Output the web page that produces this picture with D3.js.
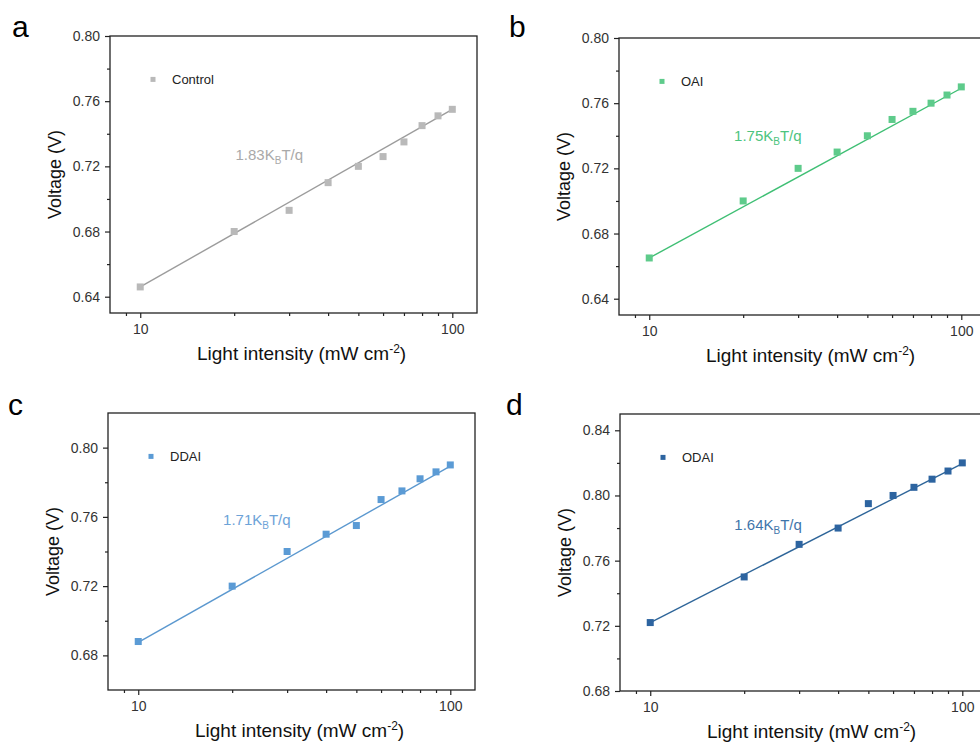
<!DOCTYPE html>
<html>
<head>
<meta charset="utf-8">
<script src="https://d3js.org/d3.v7.min.js"></script>
<style>
  html, body { margin: 0; padding: 0; background: #fff; }
  svg { display: block; font-family: "Liberation Sans", Arial, sans-serif; }
</style>
</head>
<body>
<svg id="chart" width="980" height="743"></svg>
<script>
// Light-intensity dependence of open-circuit voltage for four devices
const intensity = [10, 20, 30, 40, 50, 60, 70, 80, 90, 100];
const vocControl = [0.646, 0.680, 0.693, 0.710, 0.720, 0.726, 0.735, 0.745, 0.751, 0.755];
const vocOAI     = [0.665, 0.700, 0.720, 0.730, 0.740, 0.750, 0.755, 0.760, 0.765, 0.770];
const vocDDAI    = [0.688, 0.720, 0.740, 0.750, 0.755, 0.770, 0.775, 0.782, 0.786, 0.790];
const vocODAI    = [0.722, 0.750, 0.770, 0.780, 0.795, 0.800, 0.805, 0.810, 0.815, 0.820];

const seriesNames = ["Control", "OAI", "DDAI", "ODAI"];
const panelLetters = ["a", "b", "c", "d"];
// ideality factor n (slope = n·kBT/q) and fitted voltage at 10 mW cm-2
const idealityFactors = [1.83, 1.75, 1.71, 1.64];
const fitVoltageAt10 = [0.646, 0.665, 0.6875, 0.722];

const yDomains = [[0.63, 0.80], [0.63, 0.80], [0.66, 0.82], [0.68, 0.85]];
const yTicksA = [0.64, 0.68, 0.72, 0.76, 0.80];
const yTicksB = [0.64, 0.68, 0.72, 0.76, 0.80];
const yTicksC = [0.68, 0.72, 0.76, 0.80];
const yTicksD = [0.68, 0.72, 0.76, 0.80, 0.84];
const xTickLabels = [10, 100];
const xMinorTicks = [9, 20, 30, 40, 50, 60, 70, 80, 90];
const xDomain = [8, 120];

const kTq = 0.02585; // thermal voltage at 300 K (V)

const allSeries = [vocControl, vocOAI, vocDDAI, vocODAI];
const allYTicks = [yTicksA, yTicksB, yTicksC, yTicksD];

const styles = [
  { marker: "#b9b9b9", line: "#9c9c9c", label: "#a9a9a9" },
  { marker: "#5ecb8b", line: "#3fbf74", label: "#4cc47e" },
  { marker: "#5b9bd5", line: "#5b98cf", label: "#6da3d8" },
  { marker: "#2d64a0", line: "#2e6599", label: "#3f75aa" }
];

// panel frames (left, top) and annotation anchor in data units
const panels = [
  { left: 110, top: 36, letterX: 12, letterY: 37, note: [20.2, 0.7237] },
  { left: 619, top: 38, letterX: 509, letterY: 37, note: [18.7, 0.7367] },
  { left: 108, top: 413, letterX: 8, letterY: 415, note: [18.7, 0.7552] },
  { left: 620, top: 414, letterX: 506, letterY: 415, note: [18.6, 0.779] }
];
const W = 367, H = 277;

const svg = d3.select("#chart");
const axisColor = "#222";

panels.forEach((p, i) => {
  const g = svg.append("g").attr("transform", `translate(${p.left},${p.top})`);
  const x = d3.scaleLog().domain(xDomain).range([0, W]);
  const y = d3.scaleLinear().domain(yDomains[i]).range([H, 0]);
  const st = styles[i];

  // minor y ticks halfway between majors
  const yt = allYTicks[i];
  const step = yt[1] - yt[0];
  const yMinor = [];
  for (let k = -1; k < yt.length; k++) {
    const v = +(yt[0] + step * (k + 0.5)).toFixed(3);
    if (v > yDomains[i][0] + 1e-9 && v < yDomains[i][1] - 1e-9) yMinor.push(v);
  }

  // left axis
  const yAxis = d3.axisLeft(y).tickValues(yt).tickFormat(d3.format(".2f")).tickSize(5).tickPadding(5);
  const ya = g.append("g").call(yAxis);
  g.append("g").call(d3.axisLeft(y).tickValues(yMinor).tickFormat("").tickSize(3))
    .call(s => s.select(".domain").remove());

  // bottom axis
  const xAxis = d3.axisBottom(x).tickValues(xTickLabels).tickFormat(d3.format("d")).tickSize(5).tickPadding(6);
  const xa = g.append("g").attr("transform", `translate(0,${H})`).call(xAxis);
  g.append("g").attr("transform", `translate(0,${H})`)
    .call(d3.axisBottom(x).tickValues(xMinorTicks).tickFormat("").tickSize(3))
    .call(s => s.select(".domain").remove());

  [ya, xa].forEach(a => {
    a.select(".domain").remove();
    a.selectAll("text").attr("font-size", 14).attr("fill", "#333")
      .attr("font-family", "Liberation Sans, Arial, sans-serif");
  });
  g.selectAll(".tick line").attr("stroke", axisColor).attr("stroke-width", 1.2);

  // frame
  g.append("rect").attr("x", 0).attr("y", 0).attr("width", W).attr("height", H)
    .attr("fill", "none").attr("stroke", axisColor).attr("stroke-width", 1.3);

  // fitted line: V = V10 + n·kT/q·ln(I/10)
  const n = idealityFactors[i];
  const fit = I => fitVoltageAt10[i] + n * kTq * Math.log(I / 10);
  g.append("path")
    .attr("d", d3.line().x(d => x(d)).y(d => y(fit(d)))([intensity[0], intensity[intensity.length - 1]]))
    .attr("stroke", st.line).attr("stroke-width", 1.4).attr("fill", "none");

  // data markers
  const pts = intensity.map((I, k) => ({ I, v: allSeries[i][k] }));
  const m = 7;
  g.selectAll("rect.pt").data(pts).join("rect").attr("class", "pt")
    .attr("x", d => x(d.I) - m / 2).attr("y", d => y(d.v) - m / 2)
    .attr("width", m).attr("height", m).attr("fill", st.marker);

  // legend
  g.append("rect").attr("x", 43 - 2.5).attr("y", 43.4 - 2.5).attr("width", 5).attr("height", 5).attr("fill", st.marker);
  g.append("text").attr("x", 62).attr("y", 43.4).attr("dy", "0.35em")
    .attr("font-size", 13).attr("fill", "#222").text(seriesNames[i]);

  // slope annotation
  const note = g.append("text").attr("x", x(p.note[0])).attr("y", y(p.note[1]))
    .attr("font-size", 15).attr("fill", st.label);
  note.append("tspan").text(n.toFixed(2) + "K");
  note.append("tspan").attr("font-size", 10).attr("dy", 4).text("B");
  note.append("tspan").attr("dy", -4).text("T/q");

  // axis titles
  g.append("text").attr("transform", `translate(-49,${H / 2}) rotate(-90)`)
    .attr("text-anchor", "middle").attr("font-size", 18).attr("fill", "#111").text("Voltage (V)");
  const xt = g.append("text").attr("x", 87).attr("y", H + 47)
    .attr("font-size", 19).attr("fill", "#111");
  xt.append("tspan").text("Light intensity (mW cm");
  xt.append("tspan").attr("font-size", 12).attr("dy", -7).text("-2");
  xt.append("tspan").attr("dy", 7).text(")");

  // panel letter
  svg.append("text").attr("x", p.letterX).attr("y", p.letterY)
    .attr("font-size", 30).attr("fill", "#000").text(panelLetters[i]);
});
</script>
</body>
</html>
